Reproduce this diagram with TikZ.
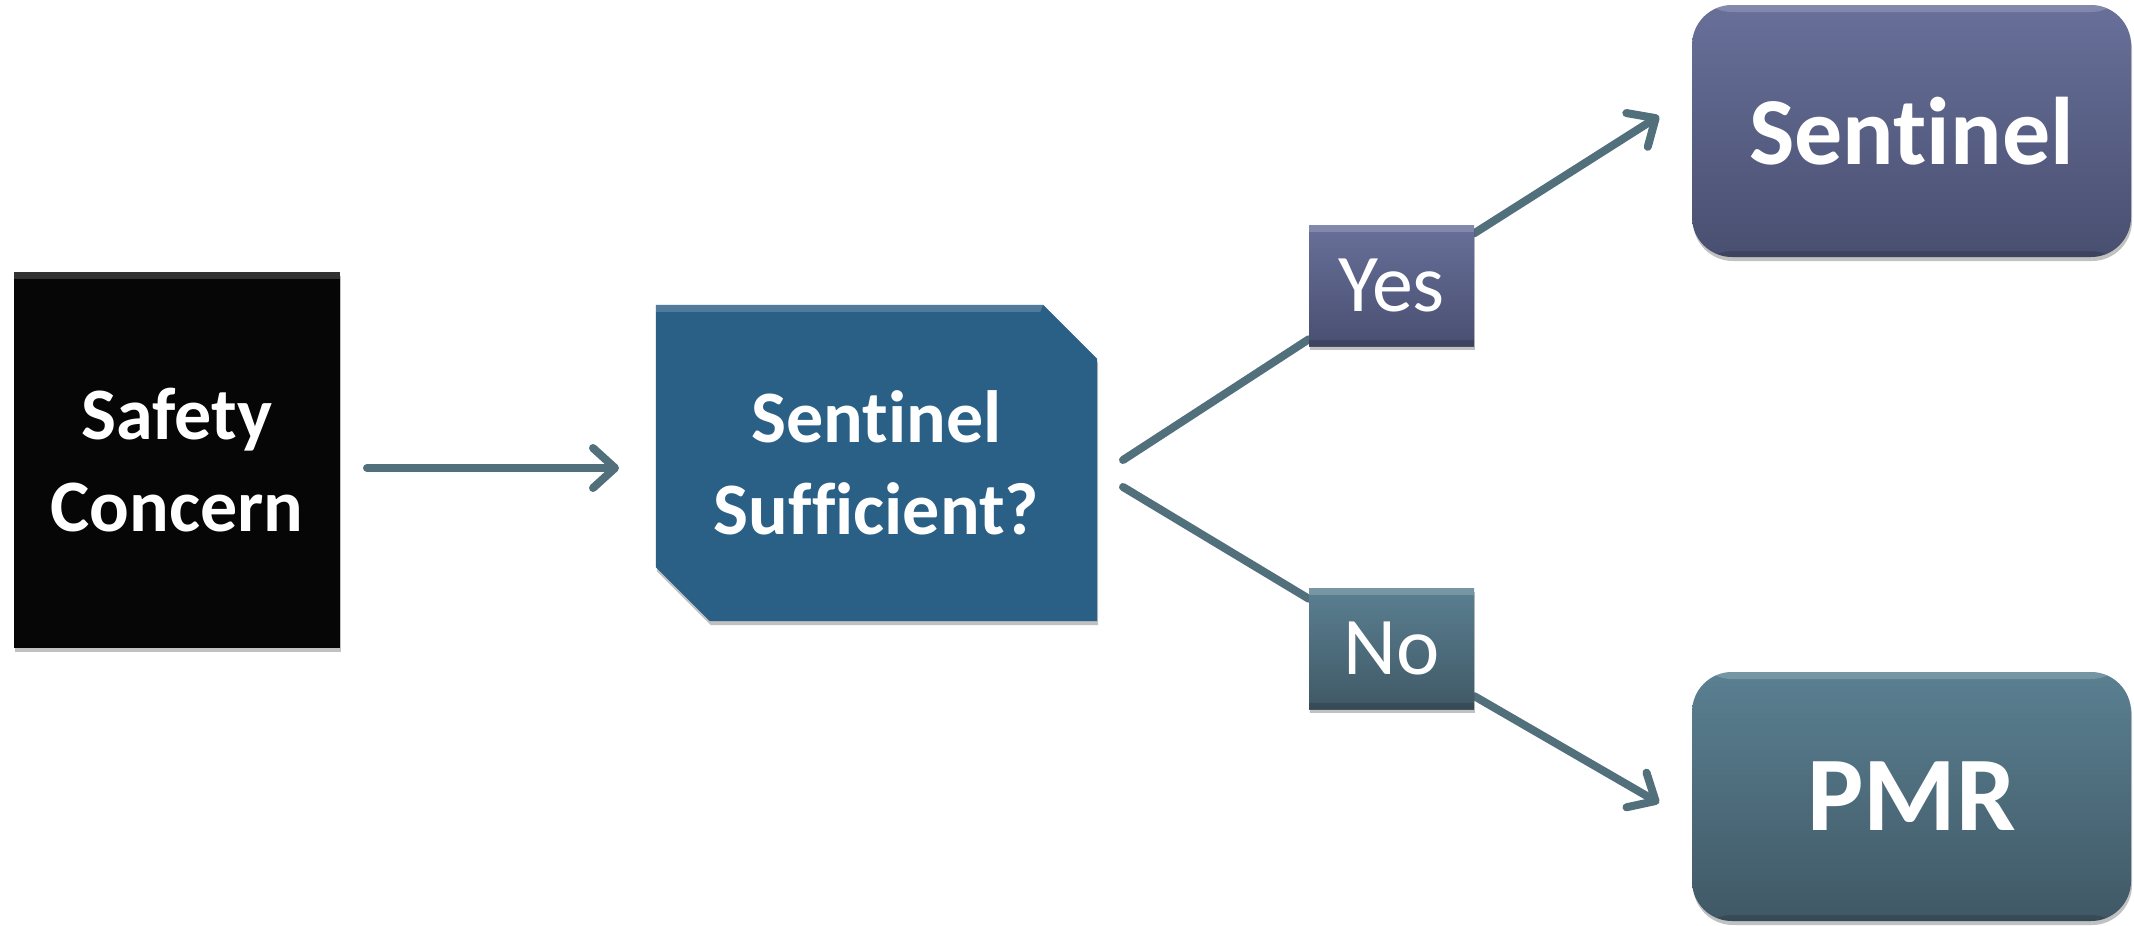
\documentclass[tikz,border=0pt]{standalone}
\usepackage{fontspec}
\setmainfont{Carlito}[Ligatures={NoCommon,NoRare},RawFeature={-liga;-dlig;-clig}]
\usetikzlibrary{arrows.meta,shadows,backgrounds,calc}
\definecolor{connC}{HTML}{52707C}
\definecolor{scC}{HTML}{060606}
\definecolor{midC}{HTML}{2A5F86}
\definecolor{slateT}{HTML}{68709A}
\definecolor{slateB}{HTML}{494F70}
\definecolor{tealT}{HTML}{5A8091}
\definecolor{tealB}{HTML}{405866}
\begin{document}
\begin{tikzpicture}[x=1pt,y=-1pt,
  box/.style={inner sep=0pt, align=center, text=white},
  shad/.style={drop shadow={shadow xshift=1pt,shadow yshift=-4pt,opacity=0.35,fill=black!70}},
  bevel/.style={path picture={\fill[white,opacity=0.18] ([yshift=-7pt]path picture bounding box.north west) rectangle (path picture bounding box.north east);
     \fill[black,opacity=0.15] ([yshift=6pt]path picture bounding box.south west) rectangle (path picture bounding box.south east);}},
  conn/.style={draw=connC, line width=8pt, line cap=round,
    -{Straight Barb[length=22pt,width=40pt,line cap=round,line join=round]}},
  bigfont/.style={font=\bfseries\fontsize{74}{92}\selectfont},
]
\useasboundingbox (0,0) rectangle (2134,926);

% left box
\node[box, shad, bevel, fill=scC, minimum width=326pt, minimum height=376pt, bigfont] (sc) at (177,460) {Safety\\Concern};

% middle decision box
\node[box, minimum width=441pt, minimum height=316pt, bigfont] (mid) at (876.5,463) {Sentinel\\Sufficient?};
\begin{scope}[on background layer]
\fill[midC, drop shadow={shadow xshift=1pt,shadow yshift=-4pt,opacity=0.35,fill=black!70}]
  (mid.north west) -- ($(mid.north east)+(-54,0)$) -- ($(mid.north east)+(0,54)$)
  -- (mid.south east) -- ($(mid.south west)+(54,0)$) -- ($(mid.south west)+(0,-54)$) -- cycle;
\fill[white,opacity=0.18] (mid.north west) -- ($(mid.north east)+(-54,0)$) -- ($(mid.north east)+(-57,7)$) -- ($(mid.north west)+(0,7)$) -- cycle;
\end{scope}

% targets
\node[box, shad, bevel, rounded corners=40pt, top color=slateT, bottom color=slateB,
  minimum width=439pt, minimum height=252pt, font=\bfseries\fontsize{96}{110}\selectfont] (sent) at (1911.5,131) {Sentinel};
\node[box, shad, bevel, rounded corners=40pt, top color=tealT, bottom color=tealB,
  minimum width=439pt, minimum height=249pt, font=\bfseries\fontsize{106}{120}\selectfont] (pmr) at (1911.5,796.5) {PMR};

% labels
\node[box, shad, bevel, top color=slateT, bottom color=slateB, minimum width=165pt, minimum height=121pt,
  font=\fontsize{82}{90}\selectfont] (yes) at (1391.5,285.5) {Yes};
\node[box, shad, bevel, top color=tealT, bottom color=tealB, minimum width=165pt, minimum height=121pt,
  font=\fontsize{82}{90}\selectfont] (no) at (1391.5,648.5) {No};

% connectors
\coordinate (ys) at (1123,460);
\coordinate (ye) at (1659,116);
\coordinate (ns) at (1123,487);
\coordinate (ne) at (1659,803);
\coordinate (as) at (367,468);
\coordinate (ae) at (619,468);
\begin{scope}[on background layer]
\draw[conn] (as) -- (ae);
\draw[conn, -] (ys) -- (yes);
\draw[conn] (yes) -- (ye);
\draw[conn, -] (ns) -- (no);
\draw[conn] (no) -- (ne);
\end{scope}
\end{tikzpicture}
\end{document}
